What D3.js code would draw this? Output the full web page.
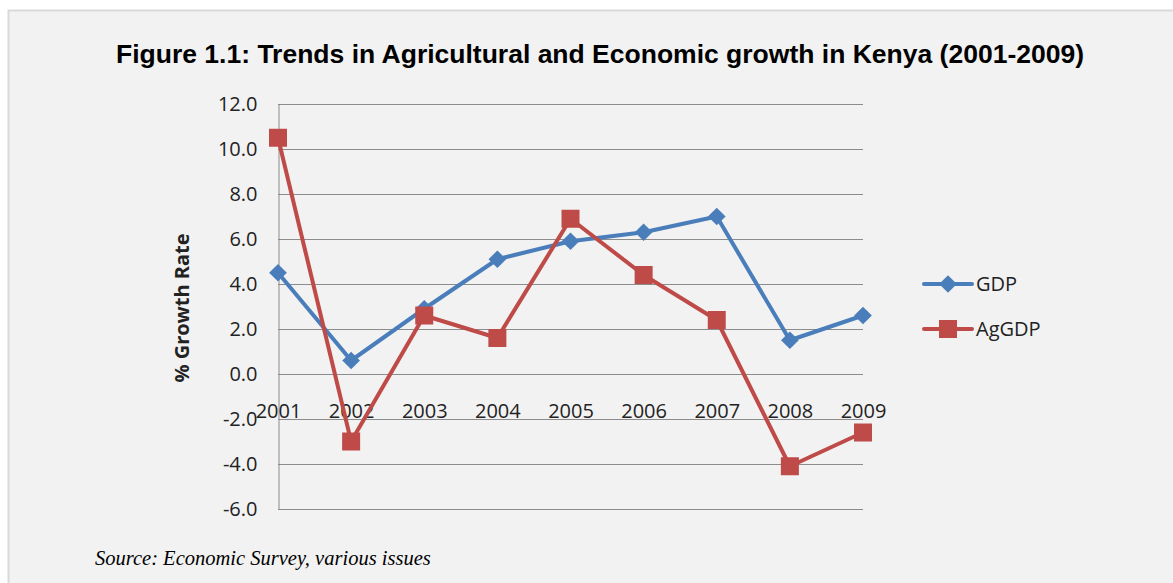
<!DOCTYPE html>
<html>
<head>
<meta charset="utf-8">
<script src="https://cdn.jsdelivr.net/npm/d3@7"></script>
<style>
    html, body { margin: 0; padding: 0; background: #fff; }
    svg { display: block; }
</style>
</head>
<body>
<svg id="svg" width="1173" height="583"></svg>
<script>
(function() {
    'use strict';

    var years = ['2001', '2002', '2003', '2004', '2005', '2006', '2007', '2008', '2009'];
    var gdp = [4.5, 0.6, 2.9, 5.1, 5.9, 6.3, 7.0, 1.5, 2.6];
    var agGdp = [10.5, -3.0, 2.6, 1.6, 6.9, 4.4, 2.4, -4.1, -2.6];
    var yTicks = [-6, -4, -2, 0, 2, 4, 6, 8, 10, 12];
    var seriesNames = ['GDP', 'AgGDP'];

    var W = 1173, H = 583;
    var plot = { left: 278, right: 863, top: 104, bottom: 509 };
    var blue = '#4a7ebb', red = '#be4b48';
    var tickFont = '"Open Sans", Lato, sans-serif';

    var svg = d3.select('#svg');

    // grey panel
    svg.append('rect')
        .attr('x', 8.5).attr('y', 10.5)
        .attr('width', W).attr('height', H)
        .attr('fill', '#f2f2f2')
        .attr('stroke', '#d9d9d9')
        .attr('stroke-width', 2);

    svg.append('text')
        .attr('x', 600).attr('y', 63)
        .attr('text-anchor', 'middle')
        .attr('font-family', '"Liberation Sans", Arial, sans-serif')
        .attr('font-weight', 'bold')
        .attr('font-size', 26.5)
        .attr('fill', '#000')
        .text('Figure 1.1: Trends in Agricultural and Economic growth in Kenya (2001-2009)');

    var x = d3.scalePoint().domain(years).range([plot.left, plot.right]);
    var y = d3.scaleLinear().domain([-6, 12]).range([plot.bottom, plot.top]);

    // gridlines
    svg.append('g')
        .selectAll('line')
        .data(yTicks)
        .enter().append('line')
        .attr('x1', plot.left).attr('x2', plot.right)
        .attr('y1', function(d) { return Math.round(y(d)) + 0.5; })
        .attr('y2', function(d) { return Math.round(y(d)) + 0.5; })
        .attr('stroke', '#8c8c8c')
        .attr('stroke-width', 1);

    // y axis, plain hyphen for negatives like the original
    var fmt = function(d) { return d3.format('.1f')(d).replace('\u2212', '-'); };
    var yAxis = svg.append('g')
        .attr('transform', 'translate(' + (plot.left + 0.5) + ',0)')
        .call(d3.axisLeft(y).tickValues(yTicks).tickSize(0).tickPadding(21)
            .tickFormat(fmt));
    yAxis.select('.domain').attr('stroke', '#8c8c8c');
    yAxis.selectAll('text')
        .attr('font-family', tickFont)
        .attr('font-size', 20)
        .attr('fill', '#222');

    // x axis labels (sit below the zero line)
    var xAxis = svg.append('g')
        .attr('transform', 'translate(0,' + (y(0) + 30) + ')')
        .call(d3.axisBottom(x).tickSize(0).tickPadding(0));
    xAxis.select('.domain').remove();
    xAxis.selectAll('text')
        .attr('font-family', tickFont)
        .attr('font-size', 20)
        .attr('fill', '#222');

    svg.append('text')
        .attr('transform', 'translate(189,308) rotate(-90)')
        .attr('text-anchor', 'middle')
        .attr('font-family', tickFont)
        .attr('font-weight', 'bold')
        .attr('font-size', 20)
        .attr('fill', '#222')
        .text('% Growth Rate');

    var line = d3.line()
        .x(function(d, i) { return x(years[i]); })
        .y(function(d) { return y(d); });

    var diamond = d3.symbol().type(d3.symbolDiamond2).size(200);

    function drawSeries(vals, color, shape) {
        svg.append('path')
            .datum(vals)
            .attr('d', line)
            .attr('fill', 'none')
            .attr('stroke', color)
            .attr('stroke-width', 4)
            .attr('stroke-linejoin', 'round');
        var g = svg.append('g');
        vals.forEach(function(v, i) {
            drawMarker(g, x(years[i]), y(v), color, shape);
        });
    }

    function drawMarker(g, cx, cy, color, shape) {
        if (shape === 'square') {
            g.append('rect')
                .attr('x', cx - 9).attr('y', cy - 9)
                .attr('width', 18).attr('height', 18)
                .attr('fill', color);
        } else {
            g.append('path')
                .attr('d', diamond)
                .attr('transform', 'translate(' + cx + ',' + cy + ')')
                .attr('fill', color);
        }
    }

    drawSeries(gdp, blue, 'diamond');
    drawSeries(agGdp, red, 'square');

    // legend
    var legend = svg.append('g');
    [[seriesNames[0], blue, 'diamond', 284], [seriesNames[1], red, 'square', 329]].forEach(function(s) {
        legend.append('line')
            .attr('x1', 924).attr('x2', 972)
            .attr('y1', s[3]).attr('y2', s[3])
            .attr('stroke', s[1]).attr('stroke-width', 4)
            .attr('stroke-linecap', 'round');
        drawMarker(legend, 948, s[3], s[1], s[2]);
        legend.append('text')
            .attr('x', 976).attr('y', s[3])
            .attr('dy', '0.35em')
            .attr('font-family', tickFont)
            .attr('font-size', 20)
            .attr('fill', '#222')
            .text(s[0]);
    });

    svg.append('text')
        .attr('x', 95).attr('y', 565)
        .attr('font-family', '"Liberation Serif", "DejaVu Serif", serif')
        .attr('font-style', 'italic')
        .attr('font-size', 20.5)
        .attr('fill', '#000')
        .text('Source: Economic Survey, various issues');
})();
</script>
</body>
</html>
